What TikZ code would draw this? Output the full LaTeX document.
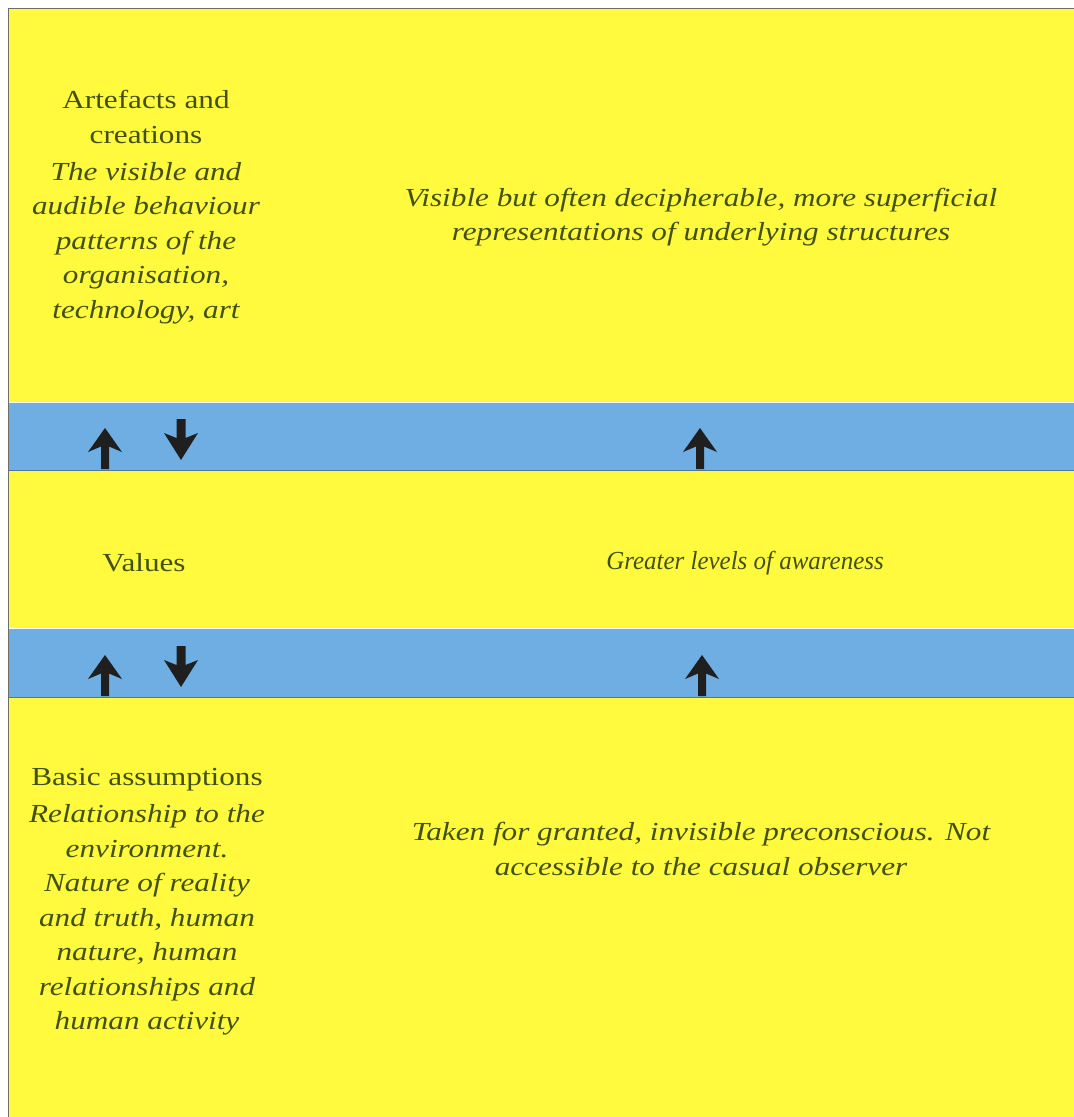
\documentclass[tikz,border=0pt]{standalone}
\usepackage{fontspec}
\setmainfont[FakeStretch=1.2]{Liberation Serif}
\newfontfamily\compactserif[FakeStretch=0.96]{Liberation Serif}
\definecolor{layeryellow}{RGB}{255,250,62}
\definecolor{bandblue}{RGB}{110,174,226}
\definecolor{bandedge}{RGB}{80,120,150}
\definecolor{inkolive}{RGB}{66,80,20}
\definecolor{framegray}{RGB}{110,110,100}
\tikzset{
  x=1pt, y=-1pt,
  label/.style={text=inkolive, align=center, inner sep=0pt,
    font=\fontsize{26}{34.5}\selectfont},
  desc/.style={label, font=\fontsize{26}{34.5}\selectfont\itshape},
  band/.style={fill=bandblue, draw=none},
  blockarrow/.style={fill=black!88, draw=none},
  uparrow/.pic={\fill[blockarrow] (0,0) -- (17,24) -- (4,18.5) -- (4,41) -- (-4,41) -- (-4,18.5) -- (-17,24) -- cycle;},
  downarrow/.pic={\fill[blockarrow] (0,41) -- (17,14) -- (4.5,19) -- (4.5,0) -- (-4.5,0) -- (-4.5,19) -- (-17,14) -- cycle;}
}
\begin{document}
\begin{tikzpicture}
\useasboundingbox (0,0) rectangle (1074,1117);
\fill[white] (0,0) rectangle (1074,1117);
% yellow panel with its frame on the top and left
\fill[layeryellow] (9,9) rectangle (1074,1117);
\draw[framegray, line width=1.4] (8.5,1117) -- (8.5,8.5) -- (1074,8.5);

% blue bands between the layers
\fill[band] (9,402) rectangle (1074,470);
\draw[white, line width=1] (9,402) -- (1074,402);
\draw[bandedge, line width=0.8] (9,470) -- (1074,470);
\fill[band] (9,628) rectangle (1074,697);
\draw[white, line width=1] (9,628) -- (1074,628);
\draw[bandedge, line width=0.8] (9,697) -- (1074,697);

% arrows in the bands
\pic at (105,428) {uparrow};
\pic at (181,419) {downarrow};
\pic at (700,428) {uparrow};
\pic at (105,655) {uparrow};
\pic at (181,646) {downarrow};
\pic at (702,655) {uparrow};

% top layer
\node[label] (arthead) at (146,117) {Artefacts and\\creations};
\node[desc] (artdesc) at (146,243) {The visible and\\audible behaviour\\patterns of the\\organisation,\\technology, art};
\node[desc] (artnote) at (701,217) {Visible but often decipherable, more superficial\\representations of underlying structures};

% middle layer
\node[label] (values) at (144,563) {Values};
\node[desc, font=\fontsize{26}{34.5}\compactserif\itshape] (valnote) at (745,563) {Greater levels of awareness};

% bottom layer
\node[label] (basehead) at (147,780) {Basic assumptions};
\node[desc] (basedesc) at (147,920) {Relationship to the\\environment.\\Nature of reality\\and truth, human\\nature, human\\relationships and\\human activity};
\node[desc] (basenote) at (701,849) {Taken for granted, invisible preconscious. Not\\accessible to the casual observer};
\end{tikzpicture}
\end{document}
